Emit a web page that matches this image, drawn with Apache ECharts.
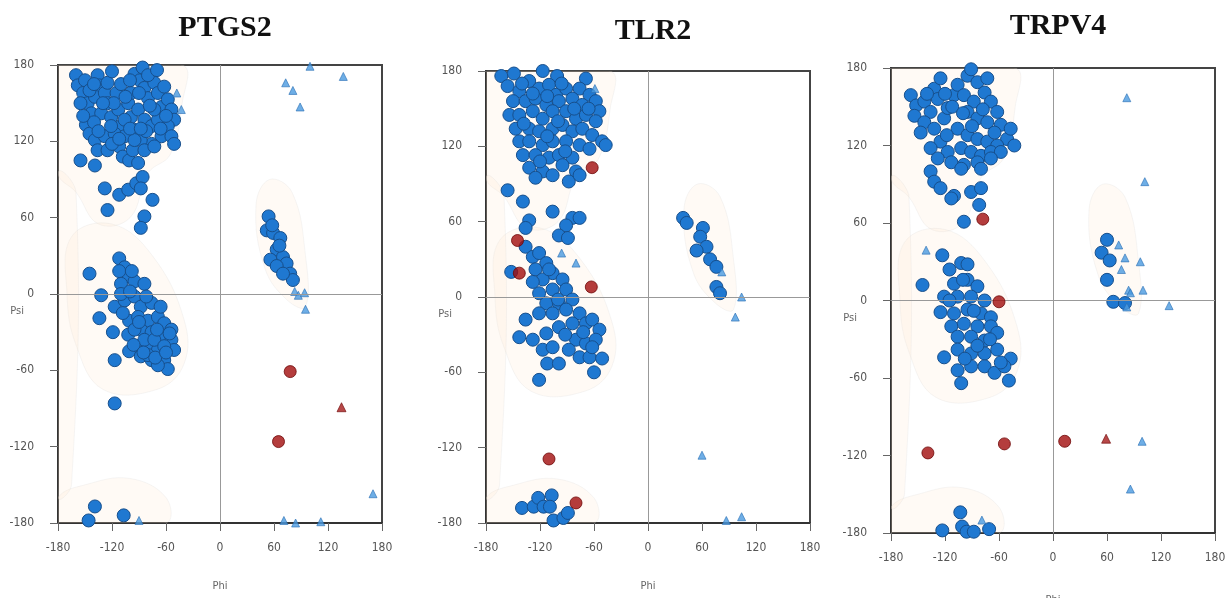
<!DOCTYPE html>
<html>
<head>
<meta charset="utf-8">
<script src="https://cdn.jsdelivr.net/npm/echarts@6/dist/echarts.min.js"></script>
<style>
  html, body { margin: 0; padding: 0; background: #fff; }
  #chart { width: 1225px; height: 598px; }
</style>
</head>
<body>
<div id="chart"></div>
<script>
// axis ticks (degrees)
const phiTicks = [-180, -120, -60, 0, 60, 120, 180]
const psiTicks = [-180, -120, -60, 0, 60, 120, 180]
const titles = ['PTGS2', 'TLR2', 'TRPV4']

// favoured / allowed regions, drawn as faint shading behind the points
const betaRegion = [[-180, 180], [-42, 180], [-42, 150], [-55, 110], [-80, 95], [-100, 60], [-135, 55], [-160, 80], [-180, 95]]
const alphaRegion = [[-165, 45], [-120, 55], [-75, 30], [-40, -20], [-40, -55], [-70, -75], [-130, -75], [-160, -40], [-170, 0]]
const leftRegion = [[40, 70], [55, 90], [80, 80], [95, 30], [95, -10], [75, -5], [50, 20]]
const bottomRegion = [[-180, -180], [-60, -180], [-60, -160], [-100, -145], [-150, -150], [-180, -160]]
const edgeStrip = [[-180, 95], [-160, 80], [-165, -150], [-180, -160]]

// PTGS2
const ptgs2Core = [
  [-160, 172], [-158, 164], [-152, 158], [-147, 150], [-143, 142], [-149, 133], [-145, 126], [-136, 172],
  [-134, 164], [-139, 155], [-128, 158], [-125, 150], [-132, 142], [-121, 139], [-115, 158], [-113, 145],
  [-110, 132], [-139, 121], [-128, 124], [-117, 126], [-106, 124], [-136, 113], [-125, 113], [-112, 116],
  [-155, 105], [-139, 101], [-108, 108], [-101, 105], [-91, 103], [-95, 173], [-89, 168], [-84, 162],
  [-80, 154], [-73, 166], [-69, 158], [-65, 147], [-62, 163], [-58, 153], [-54, 145], [-51, 137],
  [-58, 132], [-65, 124], [-76, 118], [-88, 121], [-95, 129], [-99, 139], [-102, 150], [-91, 145],
  [-84, 137], [-76, 132], [-69, 137], [-54, 124], [-51, 118], [-86, 178], [-99, 158], [-97, 113],
  [-84, 113], [-73, 116], [-106, 137], [-121, 132], [-95, 121], [-82, 128], [-73, 145],
  [-150, 168], [-145, 160], [-140, 165], [-125, 166], [-120, 175], [-110, 165], [-105, 155], [-118, 150],
  [-130, 150], [-140, 135], [-135, 128], [-120, 118], [-112, 122], [-100, 130], [-88, 130], [-78, 148],
  [-66, 130], [-60, 140], [-80, 172], [-70, 176], [-90, 158], [-100, 168], [-155, 150], [-152, 140],
  [-128, 83], [-112, 78], [-102, 82], [-93, 87], [-86, 92], [-88, 83], [-75, 74], [-125, 66], [-84, 61], [-88, 52],
  [-145, 16], [-112, 28], [-106, 21], [-102, 14], [-110, 8], [-95, 10], [-84, 8], [-132, -1], [-117, -10],
  [-106, -5], [-95, -2], [-88, -10], [-76, -7], [-134, -19], [-119, -30], [-101, -21], [-91, -18], [-80, -21],
  [-69, -18], [-62, -23], [-54, -28], [-102, -32], [-88, -28], [-76, -30], [-65, -34], [-54, -36], [-51, -44],
  [-101, -45], [-91, -41], [-80, -41], [-69, -44], [-88, -49], [-76, -52], [-62, -52], [-58, -59], [-69, -56],
  [-117, -52], [-95, -28], [-84, -36], [-73, -36], [-62, -41], [-117, -86],
  [-110, 0], [-100, 2], [-90, -22], [-80, -48], [-72, -50], [-60, -46], [-56, -31], [-96, -40], [-85, -46],
  [-108, -15], [-112, 18], [-98, 18], [-82, -2], [-70, -28], [-66, -10],
  [54, 61], [52, 50], [59, 48], [67, 44], [63, 35], [70, 29], [56, 27], [74, 24], [63, 22], [78, 16],
  [81, 11], [70, 16], [58, 54], [66, 38],
  [-139, -167], [-146, -178], [-107, -174]
]
const ptgs2Allowed = [
  [-43, 145], [-48, 158], [83, 2], [87, -1], [94, 1], [95, -12], [100, 179], [137, 171], [73, 166], [81, 160],
  [89, 147], [-90, -178], [71, -178], [84, -180], [112, -179], [170, -157]
]
const ptgs2Outlier = [[78, -61], [65, -116]]
const ptgs2OutlierTri = [[135, -89]]

// TLR2
const tlr2Core = [
  [-163, 176], [-149, 178], [-117, 180], [-101, 176], [-69, 174], [-156, 168], [-143, 164], [-132, 172],
  [-121, 166], [-110, 169], [-102, 161], [-91, 166], [-76, 166], [-65, 161], [-58, 156], [-150, 156],
  [-136, 156], [-125, 158], [-113, 153], [-99, 156], [-84, 158], [-73, 153], [-54, 148], [-154, 145],
  [-143, 145], [-128, 148], [-117, 142], [-106, 148], [-91, 148], [-80, 142], [-69, 145], [-58, 140],
  [-147, 134], [-132, 134], [-121, 132], [-106, 134], [-95, 137], [-84, 132], [-73, 134], [-62, 129],
  [-51, 124], [-143, 124], [-132, 124], [-117, 121], [-106, 124], [-91, 124], [-76, 121], [-65, 118],
  [-139, 113], [-125, 113], [-110, 111], [-99, 113], [-84, 111], [-132, 103], [-117, 100], [-95, 105],
  [-80, 100], [-125, 95], [-106, 97], [-88, 92], [-76, 97], [-47, 121],
  [-140, 170], [-128, 162], [-112, 160], [-96, 170], [-82, 150], [-138, 138], [-112, 128], [-100, 140],
  [-66, 150], [-120, 108], [-92, 116],
  [-156, 85], [-139, 76], [-106, 68], [-84, 63], [-76, 63], [-91, 57], [-132, 61], [-136, 55], [-99, 49], [-89, 47],
  [-136, 40], [-128, 32], [-121, 35], [-113, 27], [-125, 22], [-152, 20], [-106, 19], [-95, 14], [-117, 14],
  [-121, 3], [-106, 6], [-91, 6], [-84, -2], [-113, -5], [-99, -5], [-121, -13], [-106, -13], [-91, -10],
  [-76, -13], [-69, -21], [-62, -18], [-54, -26], [-136, -18], [-143, -32], [-128, -34], [-113, -29],
  [-99, -24], [-84, -21], [-117, -42], [-106, -40], [-80, -34], [-69, -37], [-58, -34], [-76, -48],
  [-65, -48], [-51, -49], [-112, -53], [-99, -53], [-60, -60], [-121, -66],
  [-110, 22], [-100, -2], [-92, -30], [-72, -28], [-88, -42], [-62, -40], [-128, 12],
  [39, 63], [43, 59], [61, 55], [58, 48], [65, 40], [54, 37], [69, 30], [76, 24], [76, 8], [80, 3],
  [-140, -168], [-127, -167], [-122, -160], [-116, -167], [-107, -158], [-109, -167], [-105, -178],
  [-94, -176], [-89, -172]
]
const tlr2Allowed = [
  [-59, 166], [-96, 35], [-80, 27], [82, 20], [104, 0], [97, -16], [60, -126], [87, -178], [104, -175]
]
const tlr2Outlier = [[-62, 103], [-145, 45], [-143, 19], [-63, 8], [-110, -129], [-80, -164]]
const tlr2OutlierTri = []

// TRPV4
const trpv4Core = [
  [-158, 159], [-152, 151], [-154, 143], [-143, 154], [-132, 164], [-125, 172], [-128, 156], [-136, 146],
  [-143, 138], [-147, 130], [-132, 133], [-121, 141], [-117, 149], [-110, 159], [-106, 167], [-95, 174],
  [-91, 179], [-84, 169], [-73, 172], [-99, 159], [-88, 154], [-76, 161], [-69, 154], [-62, 146],
  [-95, 146], [-84, 141], [-73, 138], [-58, 136], [-51, 125], [-47, 133], [-106, 133], [-95, 128],
  [-84, 125], [-73, 123], [-62, 120], [-125, 123], [-136, 118], [-117, 115], [-102, 118], [-91, 115],
  [-80, 112], [-69, 115], [-58, 115], [-128, 110], [-113, 107], [-99, 105], [-84, 107], [-69, 110],
  [-80, 102], [-102, 102], [-43, 120], [-136, 100], [-132, 92], [-125, 87], [-110, 81], [-113, 79],
  [-91, 84], [-80, 87], [-82, 74], [-99, 61],
  [-120, 160], [-112, 150], [-100, 145], [-90, 135], [-78, 148], [-65, 130], [-140, 160], [-118, 128],
  [-123, 35], [-145, 12], [-115, 24], [-102, 29], [-95, 28], [-110, 13], [-95, 16], [-84, 11], [-121, 3],
  [-106, 3], [-91, 3], [-76, 0], [-125, -9], [-110, -10], [-95, -7], [-80, -10], [-69, -13], [-113, -20],
  [-99, -18], [-84, -20], [-69, -20], [-62, -25], [-106, -28], [-91, -28], [-76, -31], [-121, -44],
  [-106, -38], [-91, -41], [-76, -41], [-62, -38], [-47, -45], [-106, -54], [-91, -51], [-76, -51],
  [-65, -56], [-102, -64], [-49, -62], [-54, -51],
  [-100, 16], [-88, -8], [-70, -30], [-84, -35], [-98, -45], [-58, -48], [-115, 0],
  [60, 47], [54, 37], [63, 31], [60, 16], [67, -1], [80, -2],
  [-103, -164], [-123, -178], [-101, -175], [-96, -179], [-88, -179], [-71, -177]
]
const trpv4Allowed = [
  [-141, 39], [82, 157], [102, 92], [73, 43], [80, 33], [97, 30], [76, 24], [84, 8], [100, 8], [86, 6],
  [129, -4], [82, -5], [99, -109], [86, -146], [-79, -170]
]
const trpv4Outlier = [[-78, 63], [-60, -1], [-139, -118], [-54, -111], [13, -109]]
const trpv4OutlierTri = [[59, -107]]

const coreSets = [ptgs2Core, tlr2Core, trpv4Core]
const allowedSets = [ptgs2Allowed, tlr2Allowed, trpv4Allowed]
const outlierSets = [ptgs2Outlier, tlr2Outlier, trpv4Outlier]
const outlierTriSets = [ptgs2OutlierTri, tlr2OutlierTri, trpv4OutlierTri]
const regions = [betaRegion, alphaRegion, leftRegion, bottomRegion, edgeStrip]

const grids = [
  { left: 58, top: 65, width: 324, height: 458 },
  { left: 486, top: 71, width: 324, height: 452 },
  { left: 891, top: 68, width: 324, height: 465 },
]
const titleTops = [8, 11, 6]
const nameGaps = [58, 58, 62]

const labelFont = "'Liberation Sans Narrow', 'DejaVu Sans Condensed', sans-serif"

var myChart = echarts.init(document.getElementById('chart'), null, { renderer: 'canvas' })

const option = {
  animation: false,
  backgroundColor: '#fff',
  title: titles.map((t, i) => ({
    text: t,
    left: grids[i].left + grids[i].width / 2,
    top: titleTops[i],
    textAlign: 'center',
    textStyle: { fontFamily: "'Liberation Serif', serif", fontWeight: 'bold', fontSize: 30, color: '#111' },
  })),
  grid: grids.map((g) => ({
    ...g,
    show: true,
    borderColor: '#444',
    borderWidth: 2,
    backgroundColor: '#fff',
    containLabel: false,
    outerBoundsMode: 'none',
  })),
  xAxis: grids.map((g, i) => ({
    type: 'value',
    gridIndex: i,
    min: phiTicks[0],
    max: phiTicks[phiTicks.length - 1],
    interval: 60,
    name: 'Phi',
    nameLocation: 'middle',
    nameGap: nameGaps[i],
    nameMoveOverlap: false,
    nameTextStyle: { color: '#666', fontSize: 11, fontFamily: labelFont },
    axisLine: { show: true, onZero: false, lineStyle: { color: '#333', width: 2 } },
    axisTick: { show: true, length: 8, lineStyle: { color: '#666' } },
    axisLabel: { color: '#555', fontSize: 12, margin: 19, fontFamily: labelFont },
    splitLine: { show: false },
  })),
  yAxis: grids.map((g, i) => ({
    type: 'value',
    gridIndex: i,
    min: psiTicks[0],
    max: psiTicks[psiTicks.length - 1],
    interval: 60,
    name: 'Psi',
    nameLocation: 'middle',
    nameRotate: 0,
    nameGap: 34,
    nameMoveOverlap: false,
    nameTextStyle: { color: '#666', fontSize: 11, fontFamily: labelFont, verticalAlign: 'top', padding: [12, 0, 0, 0] },
    axisLine: { show: true, onZero: false, lineStyle: { color: '#333', width: 2 } },
    axisTick: { show: true, length: 8, lineStyle: { color: '#666' } },
    axisLabel: { color: '#555', fontSize: 12, margin: 24, fontFamily: labelFont },
    splitLine: { show: false },
  })),
  series: [],
}

grids.forEach((g, i) => {
  option.series.push({
    type: 'custom',
    xAxisIndex: i,
    yAxisIndex: i,
    silent: true,
    z: 1,
    clip: true,
    data: regions.map((r, k) => [0, 0, k]),
    renderItem: (params, api) => {
      const pts = regions[params.dataIndex].map((p) => api.coord(p))
      return {
        type: 'polygon',
        shape: { points: pts, smooth: 0.4 },
        style: { fill: 'rgba(253, 230, 208, 0.22)', stroke: 'rgba(210, 210, 210, 0.2)', lineWidth: 1 },
      }
    },
    markLine: {
      silent: true,
      symbol: 'none',
      label: { show: false },
      lineStyle: { color: '#999', width: 1, type: 'solid' },
      data: [{ xAxis: 0 }, { yAxis: 0 }],
    },
  })
  option.series.push({
    type: 'scatter',
    xAxisIndex: i,
    yAxisIndex: i,
    z: 3,
    symbol: 'circle',
    symbolSize: 13,
    itemStyle: { color: '#1f78d1', borderColor: '#174f8c', borderWidth: 1, opacity: 1 },
    data: coreSets[i],
  })
  option.series.push({
    type: 'scatter',
    xAxisIndex: i,
    yAxisIndex: i,
    z: 4,
    symbol: 'triangle',
    symbolSize: 8,
    itemStyle: { color: '#4a9ae0', borderColor: '#2a6fb5', borderWidth: 0.8 },
    data: allowedSets[i],
  })
  option.series.push({
    type: 'scatter',
    xAxisIndex: i,
    yAxisIndex: i,
    z: 5,
    symbol: 'circle',
    symbolSize: 12,
    itemStyle: { color: '#a10c0c', borderColor: '#6e0606', borderWidth: 1 },
    data: outlierSets[i],
  })
  option.series.push({
    type: 'scatter',
    xAxisIndex: i,
    yAxisIndex: i,
    z: 5,
    symbol: 'triangle',
    symbolSize: 9,
    itemStyle: { color: '#a51a1a', borderColor: '#6e0606', borderWidth: 0.8 },
    data: outlierTriSets[i],
  })
})

myChart.setOption(option)
</script>
</body>
</html>
